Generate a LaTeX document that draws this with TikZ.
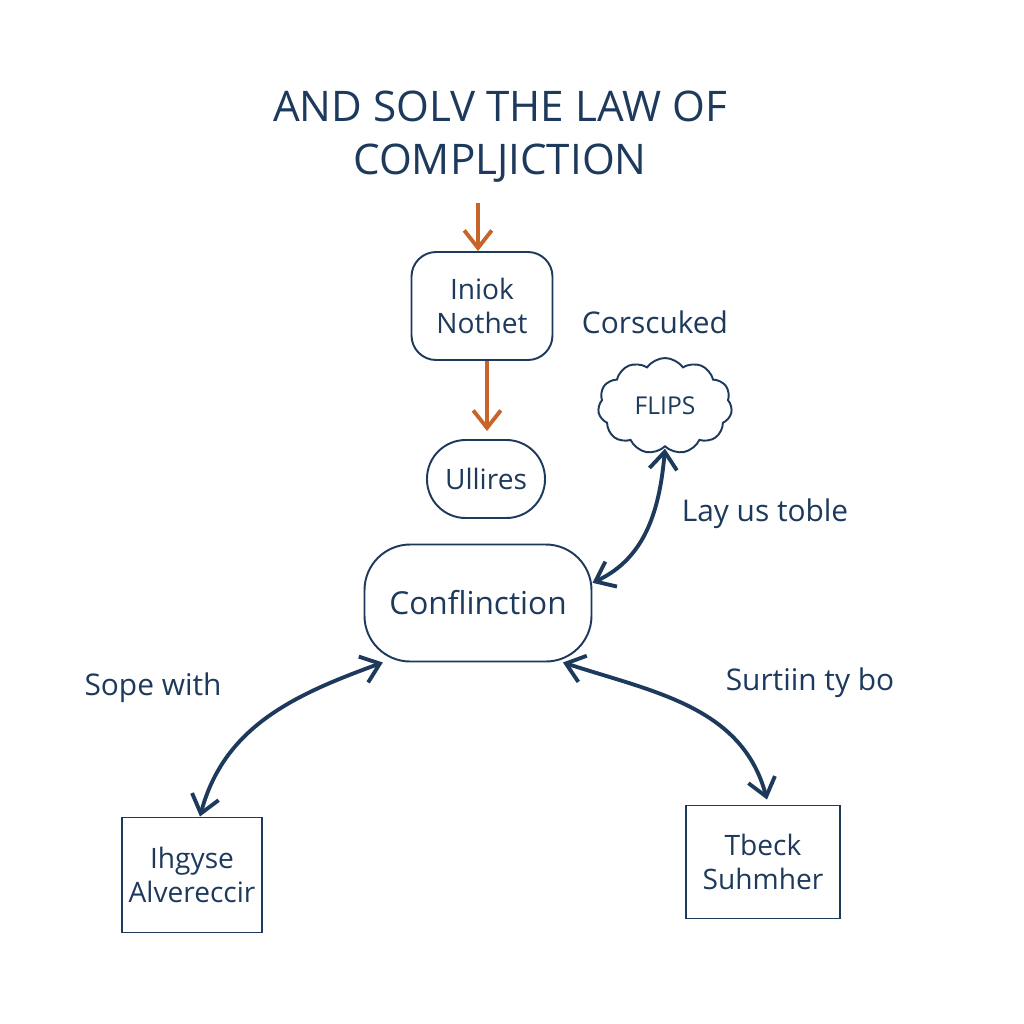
\documentclass[tikz,border=0pt]{standalone}
\usepackage{fontspec}
\setmainfont{Open Sans}
\usetikzlibrary{arrows.meta,shapes.symbols}
\definecolor{ink}{HTML}{1D3A5C}
\definecolor{rust}{HTML}{C8642A}

\begin{document}
\begin{tikzpicture}[
	font=\fontsize{16}{19}\selectfont, text=ink,
	box/.style={draw=ink, line width=1.1pt, align=center, inner sep=4pt},
	soft/.style={box, rounded corners=14pt},
	lbl/.style={font=\fontsize{17}{20}\selectfont},
	oarr/.style={-{Straight Barb[length=3.5mm, width=5.5mm]}, draw=rust, line width=2.2pt},
	darr/.style={{Straight Barb[length=3.5mm, width=5.5mm]}-{Straight Barb[length=3.5mm, width=5.5mm]}, draw=ink, line width=2.2pt}
]
\useasboundingbox[fill=white] (0,0) rectangle (20.48,-20.48);

% Titel
\node[align=center, font=\fontsize{24}{30}\selectfont] (T) at (10.0,-2.73) {AND SOLV THE LAW OF\\COMPLJICTION};

% Mittlere Spalte
\node[soft, minimum width=2.82cm, minimum height=2.16cm] (N1) at (9.64,-6.12) {Iniok\\Nothet};
\node[box, rounded corners=22pt, minimum width=2.36cm, minimum height=1.56cm] (N2) at (9.72,-9.58) {Ullires};
\node[box, rounded corners=26pt, minimum width=4.54cm, minimum height=2.34cm, font=\fontsize{18}{22}\selectfont] (C) at (9.56,-12.06) {Conflinction};

% Wolke rechts
\node[box, cloud, cloud puffs=11, cloud puff arc=110, aspect=1.6, minimum width=2.68cm, minimum height=1.92cm, inner sep=0pt, font=\fontsize{14}{17}\selectfont] (F) at (13.3,-8.12) {FLIPS};

% Untere Kaesten
\node[box, minimum width=2.78cm, minimum height=2.3cm] (B1) at (3.84,-17.5) {Ihgyse\\Alvereccir};
\node[box, minimum width=3.08cm, minimum height=2.26cm] (B2) at (15.26,-17.24) {Tbeck\\Suhmher};

% Beschriftungen
\node[lbl] (L1) at (13.1,-6.44) {Corscuked};
\node[lbl] (L2) at (15.3,-10.28) {Lay us toble};
\node[lbl] (L3) at (3.06,-13.76) {Sope with};
\node[lbl] (L4) at (16.2,-13.66) {Surtiin ty bo};

% Pfeile
\draw[oarr] ([xshift=-0.44cm, yshift=-0.3cm]T.south) -- ([xshift=-0.08cm]N1.north);
\draw[oarr] ([xshift=0.1cm]N1.south) -- ([xshift=0.02cm, yshift=0.16cm]N2.north);
\draw[darr] ([yshift=-0.02cm]F.south) to[out=-95, in=25] (C.10);
\draw[darr] (C.-148) to[out=200, in=75] ([xshift=0.16cm]B1.north);
\draw[darr] (C.-35) to[out=-18, in=105] ([xshift=0.08cm, yshift=0.1cm]B2.north);
\end{tikzpicture}
\end{document}
